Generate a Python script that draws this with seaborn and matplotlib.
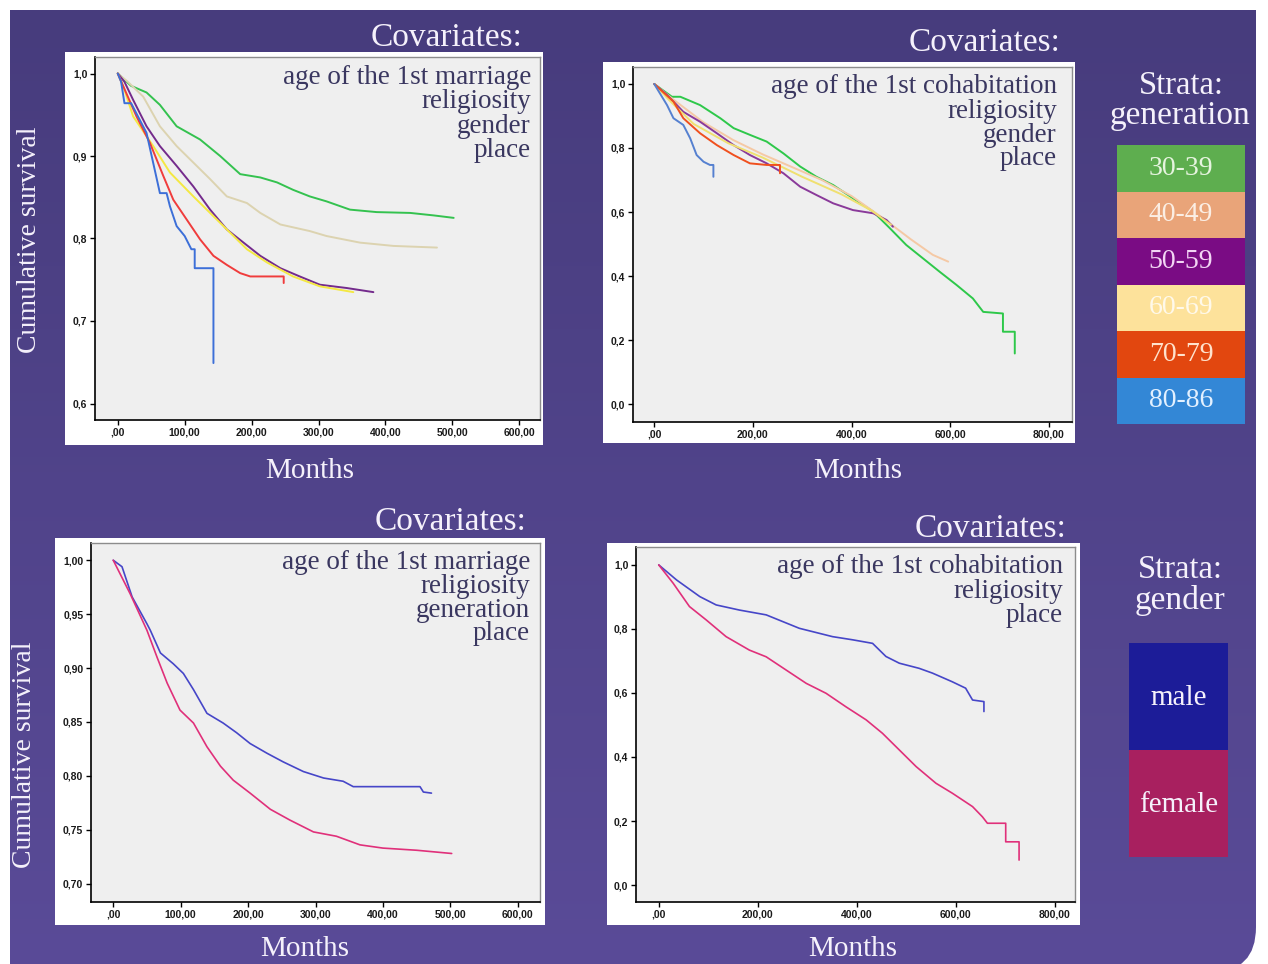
import numpy as np
import pandas as pd
import matplotlib.pyplot as plt
import seaborn as sns
from matplotlib.patches import Rectangle, PathPatch
from matplotlib.path import Path
from matplotlib.colors import LinearSegmentedColormap
from matplotlib.ticker import FuncFormatter

## Data (months, cumulative survival)

# marriage, strata = generation
mar_g30_x = [0, 20, 43, 63, 88, 123, 153, 183, 213, 238, 262, 287, 312, 347, 387, 437, 472, 502]
mar_g30_y = [1.0, .985, .977, .962, .936, .92, .90, .878, .874, .868, .859, .851, .845, .835, .832, .831, .828, .825]
mar_g40_x = [0, 15, 38, 63, 88, 113, 138, 163, 193, 213, 243, 287, 312, 362, 412, 477]
mar_g40_y = [1.0, .99, .972, .936, .912, .892, .872, .851, .843, .831, .817, .809, .803, .795, .791, .789]
mar_g50_x = [0, 10, 23, 43, 63, 88, 113, 138, 163, 188, 213, 243, 272, 302, 342, 382]
mar_g50_y = [1.0, .99, .968, .936, .912, .888, .863, .835, .811, .795, .779, .764, .754, .744, .740, .735]
mar_g60_x = [0, 8, 23, 53, 78, 113, 138, 163, 193, 223, 262, 302, 352]
mar_g60_y = [1.0, .985, .948, .912, .880, .851, .831, .811, .787, .771, .754, .742, .735]
mar_g70_x = [0, 8, 28, 48, 68, 83, 103, 123, 143, 163, 183, 198, 248, 248]
mar_g70_y = [1.0, .985, .948, .916, .876, .847, .823, .799, .779, .768, .758, .754, .754, .746]
mar_g80_x = [0, 5, 10, 20, 43, 63, 73, 78, 88, 100, 110, 115, 115, 143, 143]
mar_g80_y = [1.0, .99, .964, .964, .928, .855, .855, .839, .815, .803, .787, .787, .764, .764, .649]

# cohabitation, strata = generation
coh_g30_x = [0, 36, 53, 93, 134, 161, 194, 228, 262, 296, 329, 363, 403, 444, 478, 511, 545, 579, 613, 646, 667, 707, 707, 731, 731]
coh_g30_y = [1.0, .96, .96, .934, .893, .862, .841, .82, .783, .742, .71, .684, .643, .601, .549, .497, .455, .413, .372, .33, .288, .283, .226, .226, .158]
coh_g40_x = [0, 40, 100, 160, 220, 280, 340, 400, 460, 520, 565, 596]
coh_g40_y = [1.0, .95, .88, .825, .78, .74, .70, .65, .585, .515, .466, .445]
coh_g50_x = [0, 26, 59, 93, 127, 161, 194, 228, 262, 296, 329, 363, 403, 444, 471, 484]
coh_g50_y = [1.0, .966, .913, .882, .846, .809, .778, .752, .721, .679, .653, .627, .606, .596, .575, .554]
coh_g60_x = [0, 30, 80, 150, 220, 300, 380, 440, 480]
coh_g60_y = [1.0, .95, .875, .815, .77, .71, .655, .605, .56]
coh_g70_x = [0, 39, 59, 93, 127, 161, 194, 228, 255, 255]
coh_g70_y = [1.0, .945, .893, .846, .809, .778, .752, .747, .747, .721]
coh_g80_x = [0, 26, 39, 59, 73, 86, 100, 113, 120, 120]
coh_g80_y = [1.0, .934, .893, .872, .83, .778, .757, .747, .747, .71]

# marriage, strata = gender
mar_m_x = [0, 13, 28, 50, 55, 70, 89, 104, 119, 139, 163, 183, 203, 228, 252, 282, 312, 341, 356, 455, 460, 472]
mar_m_y = [1.0, .994, .966, .941, .935, .914, .904, .895, .88, .858, .849, .84, .83, .821, .813, .804, .798, .795, .79, .79, .785, .784]
mar_f_x = [0, 25, 50, 65, 80, 99, 119, 139, 159, 178, 203, 233, 262, 297, 331, 366, 400, 450, 502]
mar_f_y = [1.0, .969, .935, .91, .886, .861, .849, .827, .809, .796, .784, .769, .759, .748, .744, .736, .733, .731, .728]

# cohabitation, strata = gender
coh_m_x = [0, 36, 83, 116, 163, 217, 284, 351, 392, 432, 459, 486, 526, 553, 593, 620, 634, 657, 657]
coh_m_y = [1.0, .953, .901, .875, .859, .844, .802, .776, .766, .755, .714, .693, .677, .662, .635, .615, .578, .573, .542]
coh_f_x = [0, 29, 62, 96, 136, 183, 217, 257, 298, 338, 378, 419, 452, 486, 520, 560, 593, 634, 654, 664, 701, 701, 728, 728]
coh_f_y = [1.0, .943, .870, .828, .776, .734, .713, .672, .630, .599, .557, .516, .474, .422, .370, .318, .287, .245, .213, .193, .193, .135, .135, .078]

generations = ['30-39', '40-49', '50-59', '60-69', '70-79', '80-86']
genders = ['male', 'female']

gen_box_colors = ['#5eae4f', '#e9a479', '#7a0c84', '#fde29b', '#e2470f', '#3387d6']
gen_text_colors = ['#e6f4df', '#fbeee4', '#f2d6f4', '#fff9ea', '#ffe2cc', '#e2f0ff']
sex_box_colors = ['#1c1c98', '#a8205f']

mar_line_colors = {'30-39': '#34c24f', '40-49': '#dcd3b0', '50-59': '#742b8c',
                   '60-69': '#f4e842', '70-79': '#f03c3c', '80-86': '#3c6fd8'}
coh_line_colors = {'30-39': '#2ec84a', '40-49': '#f5c9a5', '50-59': '#8a3a9a',
                   '60-69': '#f0e070', '70-79': '#f0501e', '80-86': '#5580d0'}
sex_line_colors = {'male': '#4646c8', 'female': '#e0307a'}


def frame(curves):
    parts = [pd.DataFrame({'Months': xs, 'Survival': ys, 'Strata': name}) for name, xs, ys in curves]
    return pd.concat(parts, ignore_index=True)


mar_gen = frame([('30-39', mar_g30_x, mar_g30_y), ('40-49', mar_g40_x, mar_g40_y),
                 ('50-59', mar_g50_x, mar_g50_y), ('60-69', mar_g60_x, mar_g60_y),
                 ('70-79', mar_g70_x, mar_g70_y), ('80-86', mar_g80_x, mar_g80_y)])
coh_gen = frame([('30-39', coh_g30_x, coh_g30_y), ('40-49', coh_g40_x, coh_g40_y),
                 ('50-59', coh_g50_x, coh_g50_y), ('60-69', coh_g60_x, coh_g60_y),
                 ('70-79', coh_g70_x, coh_g70_y), ('80-86', coh_g80_x, coh_g80_y)])
mar_sex = frame([('male', mar_m_x, mar_m_y), ('female', mar_f_x, mar_f_y)])
coh_sex = frame([('male', coh_m_x, coh_m_y), ('female', coh_f_x, coh_f_y)])

## Figure

sns.set_theme(style="white")
plt.rcParams['font.family'] = ['Liberation Serif', 'DejaVu Serif']

W, H = 1268, 964
fig = plt.figure(figsize=(W / 100, H / 100), dpi=100)


def box(x0, y0, x1, y1):
    return [x0 / W, 1 - y1 / H, (x1 - x0) / W, (y1 - y0) / H]


def put(x, y, s, **kw):
    fig.text(x / W, 1 - y / H, s, **kw)


# purple slide background with a rounded bottom-right corner
bg = fig.add_axes([0, 0, 1, 1], zorder=-5)
R = 45
verts = [(10, 10), (1256, 10), (1256, 972 - R), (1256, 972), (1256 - R, 972), (10, 972), (10, 10)]
codes = [Path.MOVETO, Path.LINETO, Path.LINETO, Path.CURVE3, Path.CURVE3, Path.LINETO, Path.CLOSEPOLY]
panel = PathPatch(Path(verts, codes), facecolor='none', edgecolor='none')
bg.add_patch(panel)
cmap = LinearSegmentedColormap.from_list('slide', ['#473c7d', '#5a4b98'])
im = bg.imshow(np.linspace(0, 1, 256)[:, None], cmap=cmap, extent=[10, 1256, 972, 10], aspect='auto')
im.set_clip_path(panel)
bg.set_xlim(0, W)
bg.set_ylim(H, 0)
bg.axis('off')

# white frames behind the charts
for x0, y0, x1, y1 in [(65, 52, 543, 445), (603, 62, 1075, 443), (55, 538, 545, 925), (607, 543, 1080, 925)]:
    bg.add_patch(Rectangle((x0, y0), x1 - x0, y1 - y0, facecolor='white', edgecolor='none', zorder=2))


def xfmt(v, p):
    return ',00' if v == 0 else f'{v:.2f}'.replace('.', ',')


def style(ax, xlim, ylim, xt, yt, ydec):
    ax.set_facecolor('#efefef')
    ax.set_xlim(xlim)
    ax.set_ylim(ylim)
    ax.set_xticks(xt)
    ax.set_yticks(yt)
    ax.xaxis.set_major_formatter(FuncFormatter(xfmt))
    ax.yaxis.set_major_formatter(FuncFormatter(lambda v, p: f'{v:.{ydec}f}'.replace('.', ',')))
    ax.tick_params(axis='both', direction='out', length=3.5, width=1, color='black', pad=2,
                   labelsize=7.5, labelcolor='#1a1a1a', bottom=True, left=True)
    for side in ['left', 'bottom']:
        ax.spines[side].set_color('black')
        ax.spines[side].set_linewidth(1.2)
    for side in ['top', 'right']:
        ax.spines[side].set_color('#8c8c8c')
        ax.spines[side].set_linewidth(1)
    ax.set_xlabel('')
    ax.set_ylabel('')


ax1 = fig.add_axes(box(95, 57, 540, 420))
sns.lineplot(data=mar_gen, x='Months', y='Survival', hue='Strata', hue_order=generations,
             palette=mar_line_colors, estimator=None, sort=False, legend=False, linewidth=1.4, ax=ax1)
style(ax1, (-34, 631), (0.58, 1.02), range(0, 601, 100), [0.6, 0.7, 0.8, 0.9, 1.0], 1)

ax2 = fig.add_axes(box(633, 67, 1072, 422))
sns.lineplot(data=coh_gen, x='Months', y='Survival', hue='Strata', hue_order=generations,
             palette=coh_line_colors, estimator=None, sort=False, legend=False, linewidth=1.4, ax=ax2)
style(ax2, (-43, 847), (-0.056, 1.053), range(0, 801, 200), [0, .2, .4, .6, .8, 1.0], 1)

ax3 = fig.add_axes(box(91, 543, 540, 902))
sns.lineplot(data=mar_sex, x='Months', y='Survival', hue='Strata', hue_order=genders,
             palette=sex_line_colors, estimator=None, sort=False, legend=False, linewidth=1.2, ax=ax3)
style(ax3, (-33, 633), (0.683, 1.016), range(0, 601, 100), [.70, .75, .80, .85, .90, .95, 1.00], 2)

ax4 = fig.add_axes(box(636, 547, 1075, 902))
sns.lineplot(data=coh_sex, x='Months', y='Survival', hue='Strata', hue_order=genders,
             palette=sex_line_colors, estimator=None, sort=False, legend=False, linewidth=1.2, ax=ax4)
style(ax4, (-46, 841), (-0.053, 1.056), range(0, 801, 200), [0, .2, .4, .6, .8, 1.0], 1)

## Texts

white = '#f5f1fb'
ink = '#3a3760'
for x, y in [(522, 46), (1060, 51), (526, 530), (1067, 537)]:
    put(x, y, 'Covariates:', ha='right', va='baseline', fontsize=24, color=white)

covariates = [
    (531, [84, 108, 133, 157], ['age of the 1st marriage', 'religiosity', 'gender', 'place']),
    (1057, [93, 118, 142, 165], ['age of the 1st cohabitation', 'religiosity', 'gender', 'place']),
    (530, [569, 593, 617, 640], ['age of the 1st marriage', 'religiosity', 'generation', 'place']),
    (1063, [573, 598, 622], ['age of the 1st cohabitation', 'religiosity', 'place']),
]
for x, ys, lines in covariates:
    for y, s in zip(ys, lines):
        put(x, y, s, ha='right', va='baseline', fontsize=19.5, color=ink)

for x, y in [(30, 240), (25, 755)]:
    put(x, y, 'Cumulative survival', rotation=90, ha='center', va='center', fontsize=20, color=white)
for x, y in [(310, 478), (858, 478), (305, 956), (853, 956)]:
    put(x, y, 'Months', ha='center', va='baseline', fontsize=21, color=white)

# legends
put(1181, 94, 'Strata:', ha='center', va='baseline', fontsize=23.5, color=white)
put(1180, 124, 'generation', ha='center', va='baseline', fontsize=24, color=white)
top, step = 145, 46.5
for i, (lab, fc, tc) in enumerate(zip(generations, gen_box_colors, gen_text_colors)):
    y0 = top + i * step
    bg.add_patch(Rectangle((1117, y0), 128, step, facecolor=fc, edgecolor='none', zorder=2))
    put(1181, y0 + step / 2, lab, ha='center', va='center', fontsize=20, color=tc)

put(1180, 578, 'Strata:', ha='center', va='baseline', fontsize=23.5, color=white)
put(1180, 609, 'gender', ha='center', va='baseline', fontsize=24, color=white)
for i, (lab, fc) in enumerate(zip(genders, sex_box_colors)):
    y0 = 643 + i * 107
    bg.add_patch(Rectangle((1129, y0), 99, 107, facecolor=fc, edgecolor='none', zorder=2))
    put(1179, y0 + 55, lab, ha='center', va='center', fontsize=21, color=white)

for ax in [ax1, ax2, ax3, ax4]:
    for lab in ax.get_xticklabels() + ax.get_yticklabels():
        lab.set_fontfamily('Liberation Sans')
        lab.set_fontweight('bold')

fig.savefig('out.png', dpi=100)
